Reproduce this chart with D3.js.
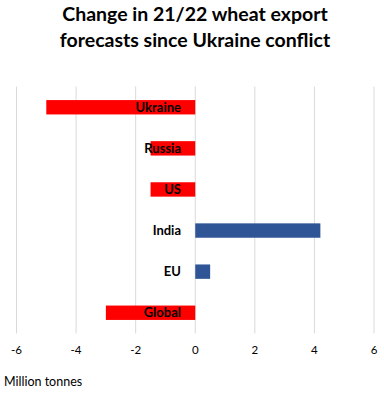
<!DOCTYPE html>
<html>
<head>
<meta charset="utf-8">
<script src="https://cdn.jsdelivr.net/npm/d3@7"></script>
<style>
  body { margin: 0; background: #fff; }
  text { font-family: Lato, "Open Sans", sans-serif; }
</style>
</head>
<body>
<svg id="chart" width="384" height="400"></svg>
<script>
// chart data
var countries = ["Ukraine", "Russia", "US", "India", "EU", "Global"];
var changes = [-5.0, -1.5, -1.5, 4.2, 0.5, -3.0];
var xTicks = [-6, -4, -2, 0, 2, 4, 6];
var titleLines = ["Change in 21/22 wheat export", "forecasts since Ukraine conflict"];

var svg = d3.select("#chart");

var x = d3.scaleLinear().domain([-6, 6]).range([16.5, 374]);
var y = d3.scaleBand().domain(countries).range([86.5, 333.5]).paddingInner(0.65).paddingOuter(0.33);

// Title
svg.append("text")
  .attr("x", 195)
  .attr("y", 21)
  .attr("text-anchor", "middle")
  .style("font-size", "19.5px")
  .style("font-weight", "bold")
  .selectAll("tspan")
  .data(titleLines)
  .enter().append("tspan")
  .attr("x", 195)
  .attr("dy", function(d, i) { return i == 0 ? 0 : 25.5; })
  .text(function(d) { return d; });

// Gridlines
svg.selectAll(".grid")
  .data(xTicks)
  .enter().append("line")
  .attr("class", "grid")
  .attr("x1", function(d) { return x(d); })
  .attr("x2", function(d) { return x(d); })
  .attr("y1", 86.5)
  .attr("y2", 333.5)
  .style("stroke", "#d9d9d9")
  .style("stroke-width", 1);

// Bars
svg.selectAll(".bar")
  .data(countries)
  .enter().append("rect")
  .attr("class", "bar")
  .attr("x", function(d, i) { return x(Math.min(0, changes[i])); })
  .attr("y", function(d) { return y(d); })
  .attr("width", function(d, i) { return Math.abs(x(changes[i]) - x(0)); })
  .attr("height", y.bandwidth())
  .style("fill", function(d, i) { return changes[i] < 0 ? "#ff0000" : "#2f5597"; });

// Category labels
svg.selectAll(".label")
  .data(countries)
  .enter().append("text")
  .attr("class", "label")
  .attr("x", 181)
  .attr("y", function(d) { return y(d) + y.bandwidth() / 2; })
  .attr("dy", "0.35em")
  .attr("text-anchor", "end")
  .style("font-size", "13px")
  .style("font-weight", "bold")
  .style("fill", "#000")
  .text(function(d) { return d; });

// Tick labels
svg.selectAll(".tick-label")
  .data(xTicks)
  .enter().append("text")
  .attr("class", "tick-label")
  .attr("x", function(d) { return x(d); })
  .attr("y", 354)
  .attr("text-anchor", "middle")
  .style("font-size", "11.5px")
  .style("fill", "#000")
  .text(function(d) { return d; });

// Axis title
svg.append("text")
  .attr("x", 4)
  .attr("y", 386)
  .style("font-size", "12.5px")
  .style("fill", "#000")
  .text("Million tonnes");
</script>
</body>
</html>
